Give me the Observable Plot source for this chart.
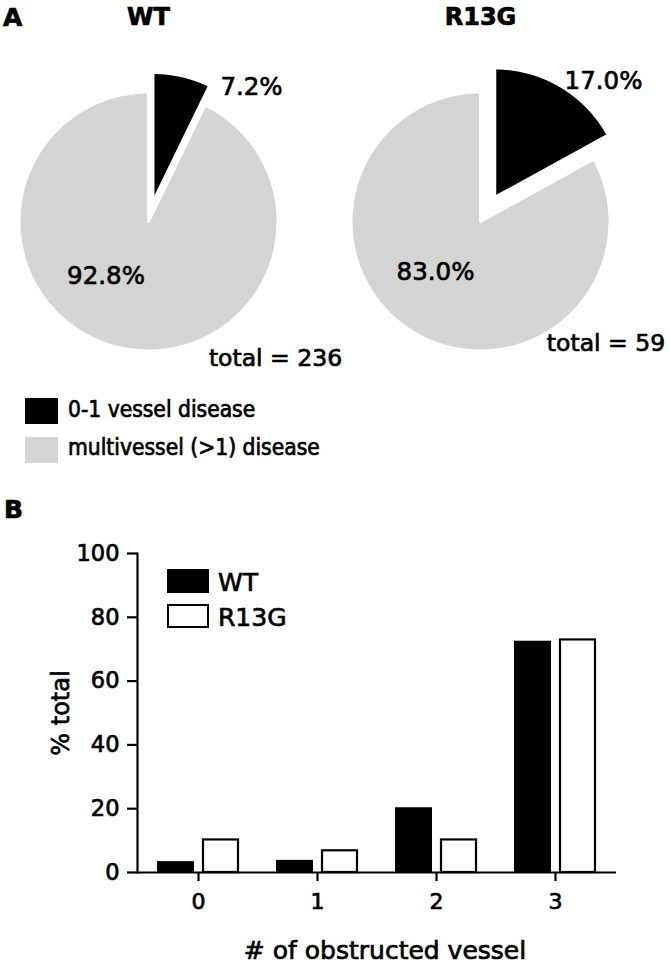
<!DOCTYPE html>
<html><head><meta charset="utf-8">
<script src="https://cdn.jsdelivr.net/npm/d3@7"></script>
<script src="https://cdn.jsdelivr.net/npm/@observablehq/plot@0.6"></script>
<style>
body{margin:0;background:#fff;}
#fig{position:relative;width:670px;height:963px;overflow:hidden;font-family:"DejaVu Sans",sans-serif;color:#000;}
.abs{position:absolute;white-space:nowrap;line-height:1;-webkit-text-stroke:0.7px #000;}
#fig svg text{stroke:#000;stroke-width:0.7px;}
</style></head><body><div id="fig"></div>
<script>
// ---------- data ----------
const genotypes = ["WT", "R13G"];
const pieCategories = ["0-1 vessel disease", "multivessel (>1) disease"];
const piePercentWT = [7.2, 92.8];
const piePercentR13G = [17.0, 83.0];
const pieTotals = [236, 59];
const vesselCounts = [0, 1, 2, 3];
const barWT = [3.4, 3.8, 20.3, 72.5];
const barR13G = [10.2, 6.8, 10.2, 72.9];
const yTicks = [0, 20, 40, 60, 80, 100];
const xLabel = "# of obstructed vessel";
const yLabel = "% total";
const panelLabels = ["A", "B"];

// ---------- layout / style ----------
const pieColors = ["#000000", "#d4d4d4"];
const R = 129.5;             // pie radius in px
const pieCY = 221;           // pie centre y in px
const explode = [20, 28];    // explode distance of the small slice, px
const pctOffset = [[[103, 134], [-42.5, -55]], [[123, 140], [-45, -51]]];
const totalOffset = [[127, -136.5], [125.5, -122]];
const titleUp = 204;

const fig = document.getElementById("fig");

// ---------- pies ----------
const piePercents = [piePercentWT, piePercentR13G];
const pieGen = d3.pie().sort(null).value(d => d);
const slicePts = [];
const pctLabels = [];
const totals = [];
genotypes.forEach((g, gi) => {
  pieGen(piePercents[gi]).forEach((a, si) => {
    const mid = (a.startAngle + a.endAngle) / 2;
    const off = si === 0 ? explode[gi] / R : 0;
    const ox = Math.sin(mid) * off, oy = Math.cos(mid) * off;
    const key = g + "-" + si;
    slicePts.push({g, slice: si, key, x: ox, y: oy});
    const n = Math.max(2, Math.ceil((a.endAngle - a.startAngle) / (Math.PI / 360)));
    for (let k = 0; k <= n; k++) {
      const t = a.startAngle + (a.endAngle - a.startAngle) * k / n;
      slicePts.push({g, slice: si, key, x: ox + Math.sin(t), y: oy + Math.cos(t)});
    }
    pctLabels.push({g, text: piePercents[gi][si].toFixed(1) + "%", x: pctOffset[gi][si][0] / R, y: pctOffset[gi][si][1] / R});
  });
  totals.push({g, text: "total = " + pieTotals[gi], x: totalOffset[gi][0] / R, y: totalOffset[gi][1] / R});
});

const pieH = 380;
const piePlot = Plot.plot({
  width: 670, height: pieH,
  marginLeft: 0, marginRight: 42, marginTop: 0, marginBottom: 0,
  style: {fontFamily: "DejaVu Sans", background: "transparent", overflow: "visible", color: "black"},
  fx: {domain: genotypes, paddingInner: 36 / 332, paddingOuter: 0, axis: null, round: false},
  x: {domain: [-148 / R, 148 / R], axis: null},
  y: {domain: [-(pieH - pieCY) / R, pieCY / R], axis: null},
  marks: [
    Plot.line(slicePts.filter(d => d.slice === 1), {fx: "g", x: "x", y: "y", z: "key", fill: pieColors[1], stroke: "white", strokeWidth: 3, curve: "linear-closed"}),
    Plot.line(slicePts.filter(d => d.slice === 0), {fx: "g", x: "x", y: "y", z: "key", fill: pieColors[0], stroke: "white", strokeWidth: 3, curve: "linear-closed"}),
    Plot.text(pctLabels, {fx: "g", x: "x", y: "y", text: "text", fontSize: 24.5, fill: "black", lineAnchor: "middle"}),
    Plot.text(totals, {fx: "g", x: "x", y: "y", text: "text", fontSize: 23.5, fill: "black", lineAnchor: "middle"}),
    Plot.text(genotypes, {fx: d => d, x: () => 0, y: () => titleUp / R, text: d => d, fontSize: 24, fontWeight: "bold", fill: "black", lineAnchor: "middle"})
  ]
});
piePlot.style.position = "absolute";
piePlot.style.left = "0px";
piePlot.style.top = "0px";
fig.appendChild(piePlot);

// ---------- bar chart ----------
const barData = vesselCounts.flatMap((v, i) => [
  {vessel: v, genotype: genotypes[0], pct: barWT[i]},
  {vessel: v, genotype: genotypes[1], pct: barR13G[i]}
]);
const barPlot = Plot.plot({
  width: 670, height: 433,
  marginTop: 23, marginBottom: 91, marginLeft: 137, marginRight: 54,
  style: {fontFamily: "DejaVu Sans", background: "transparent", overflow: "visible", color: "black"},
  x: {type: "band", domain: vesselCounts, paddingInner: 0.307, paddingOuter: 0.1535, label: null, axis: null},
  y: {domain: [0, 100], label: null, axis: null},
  marks: [
    Plot.barY(barData.filter(d => d.genotype === genotypes[0]), {x: "vessel", y: "pct", fill: "black", insetRight: 45}),
    Plot.barY(barData.filter(d => d.genotype === genotypes[1]), {x: "vessel", y: "pct", fill: "white", stroke: "black", strokeWidth: 2.2, insetLeft: 46, insetRight: 1}),
    Plot.ruleY([0], {stroke: "black", strokeWidth: 2.2}),
    Plot.frame({anchor: "left", stroke: "black", strokeWidth: 2.2}),
    Plot.axisY({ticks: yTicks, tickSize: 10, tickPadding: 8, strokeWidth: 2.2, label: null, fontSize: 22.5, tickFormat: d => d}),
    Plot.axisX({tickSize: 9, tickPadding: 12, strokeWidth: 2.2, label: null, fontSize: 22}),
    Plot.text([yLabel], {text: d => d, frameAnchor: "left", rotate: -90, dx: -76, textAnchor: "middle", lineAnchor: "middle", fontSize: 24, fill: "black"}),
    Plot.text([xLabel], {text: d => d, frameAnchor: "bottom", dy: 78, dx: 8, textAnchor: "middle", lineAnchor: "middle", fontSize: 25, fill: "black"})
  ]
});
barPlot.style.position = "absolute";
barPlot.style.left = "0px";
barPlot.style.top = "530px";
fig.appendChild(barPlot);

// ---------- HTML legends & panel labels ----------
function addDiv(text, css) {
  const d = document.createElement("div");
  d.className = "abs";
  d.textContent = text;
  Object.assign(d.style, css);
  fig.appendChild(d);
  return d;
}
function addBox(css) {
  const d = document.createElement("div");
  d.className = "abs";
  Object.assign(d.style, {boxSizing: "border-box"}, css);
  fig.appendChild(d);
}
addDiv(panelLabels[0], {left: "3px", top: "5px", fontSize: "25px", fontWeight: "bold"});
addDiv(panelLabels[1], {left: "4px", top: "497px", fontSize: "25px", fontWeight: "bold"});

// pie legend
pieCategories.forEach((c, i) => {
  const top = [398, 437][i];
  addBox({left: "25px", top: top + "px", width: "33px", height: "26px", background: pieColors[i]});
  addDiv(c, {left: "68px", top: [398, 436][i] + "px", fontSize: "22.6px", fontFamily: "'DejaVu Sans Condensed','DejaVu Sans',sans-serif", fontStretch: "condensed"});
});

// bar legend
genotypes.forEach((g, i) => {
  const top = [569, 604][i];
  addBox(i === 0 ? {left: "167px", top: top + "px", width: "42px", height: "24px", background: "#000"}
                 : {left: "167px", top: top + "px", width: "42px", height: "24px", background: "#fff", border: "2px solid #000"});
  addDiv(g, {left: "218px", top: [570, 604.5][i] + "px", fontSize: "25px"});
});
</script>
</body></html>
